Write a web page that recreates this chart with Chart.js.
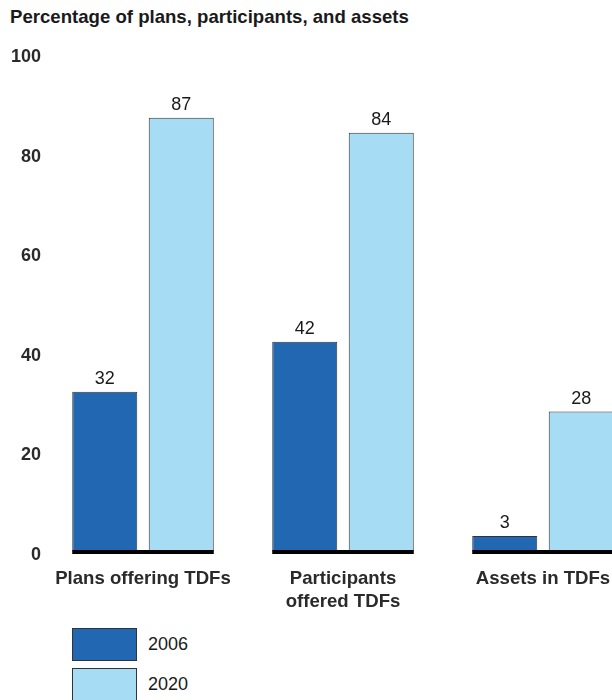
<!DOCTYPE html>
<html>
<head>
<meta charset="utf-8">
<script src="https://cdn.jsdelivr.net/npm/chart.js@4"></script>
<style>
  body { margin: 0; overflow: hidden; background: #fff; font-family: "Liberation Sans", Arial, sans-serif; }
  #title { position: absolute; left: 10px; top: 8px; font-size: 18.6px; line-height: 18px; font-weight: bold; color: #1a1a1a; white-space: nowrap; }
  #wrap { position: absolute; left: 0; top: 0; width: 645px; height: 611px; }
  #legend { position: absolute; left: 72px; top: 628px; }
  .item { display: flex; align-items: center; height: 33px; margin-bottom: 7px; }
  .box { width: 63px; height: 31px; border: 1px solid #333; }
  .lbl { margin-left: 11px; font-size: 18px; color: #1a1a1a; }
</style>
</head>
<body>
<div id="title">Percentage of plans, participants, and assets</div>
<div id="wrap"><canvas id="chart"></canvas></div>
<div id="legend"></div>
<script>
// data
const categories = [['Plans offering TDFs'], ['Participants', 'offered TDFs'], ['Assets in TDFs']];
const years = ['2006', '2020'];
const values2006 = [32, 42, 3];
const values2020 = [87, 84, 28];
const yTicks = [0, 20, 40, 60, 80, 100];
const colors = ['#2267b1', '#a6dcf4'];

// labels over the bars
const valueLabels = {
    id: 'valueLabels',
    afterDatasetsDraw(chart) {
        const ctx = chart.ctx;
        ctx.save();
        ctx.font = '18px "Liberation Sans", Arial, sans-serif';
        ctx.fillStyle = '#1a1a1a';
        ctx.textAlign = 'center';
        ctx.textBaseline = 'alphabetic';
        chart.data.datasets.forEach((ds, i) => {
            chart.getDatasetMeta(i).data.forEach((bar, j) => {
                ctx.fillText(ds.data[j], bar.x, bar.y - 8);
            });
        });
        ctx.restore();
    }
};

// thick black line under each pair of bars
const baseLine = {
    id: 'baseLine',
    afterDatasetsDraw(chart) {
        const ctx = chart.ctx;
        const y0 = chart.scales.y.getPixelForValue(0);
        const a = chart.getDatasetMeta(0).data;
        const b = chart.getDatasetMeta(1).data;
        ctx.save();
        ctx.fillStyle = '#000';
        a.forEach((bar, j) => {
            const left = bar.x - bar.width / 2;
            const right = b[j].x + b[j].width / 2;
            ctx.fillRect(left, y0 - 1, right - left, 4);
        });
        ctx.restore();
    }
};

const chart = new Chart(document.getElementById('chart'), {
    type: 'bar',
    data: {
        labels: categories,
        datasets: [
            { label: years[0], data: values2006, backgroundColor: colors[0], borderColor: '#333', borderWidth: 1 },
            { label: years[1], data: values2020, backgroundColor: colors[1], borderColor: '#333', borderWidth: 1 }
        ]
    },
    options: {
        responsive: true,
        maintainAspectRatio: false,
        animation: false,
        layout: { padding: { top: 53, right: 2, left: 0, bottom: 0 } },
        datasets: { bar: { categoryPercentage: 0.765, barPercentage: 0.85 } },
        plugins: {
            legend: { display: false },
            tooltip: { enabled: false }
        },
        scales: {
            x: {
                grid: { display: false, drawTicks: false },
                border: { display: false },
                ticks: {
                    padding: 17,
                    color: '#2a2a2a',
                    font: { family: '"Liberation Sans", Arial, sans-serif', size: 18.6, weight: 'bold', lineHeight: 1.2 }
                },
                afterFit: s => { s.height = 60; }
            },
            y: {
                min: 0,
                max: 100,
                afterBuildTicks: s => { s.ticks = yTicks.map(v => ({ value: v })); },
                grid: { display: false, drawTicks: false },
                border: { display: false },
                ticks: {
                    padding: 2,
                    labelOffset: 4,
                    color: '#2a2a2a',
                    font: { family: '"Liberation Sans", Arial, sans-serif', size: 18, weight: 'bold' }
                },
                afterFit: s => { s.width = 43; }
            }
        }
    },
    plugins: [valueLabels, baseLine]
});

// legend, stacked vertically below the chart
const legend = document.getElementById('legend');
chart.data.datasets.forEach(ds => {
    const item = document.createElement('div');
    item.className = 'item';
    item.innerHTML = '<div class="box" style="background:' + ds.backgroundColor + '"></div><span class="lbl">' + ds.label + '</span>';
    legend.appendChild(item);
});
</script>
</body>
</html>
